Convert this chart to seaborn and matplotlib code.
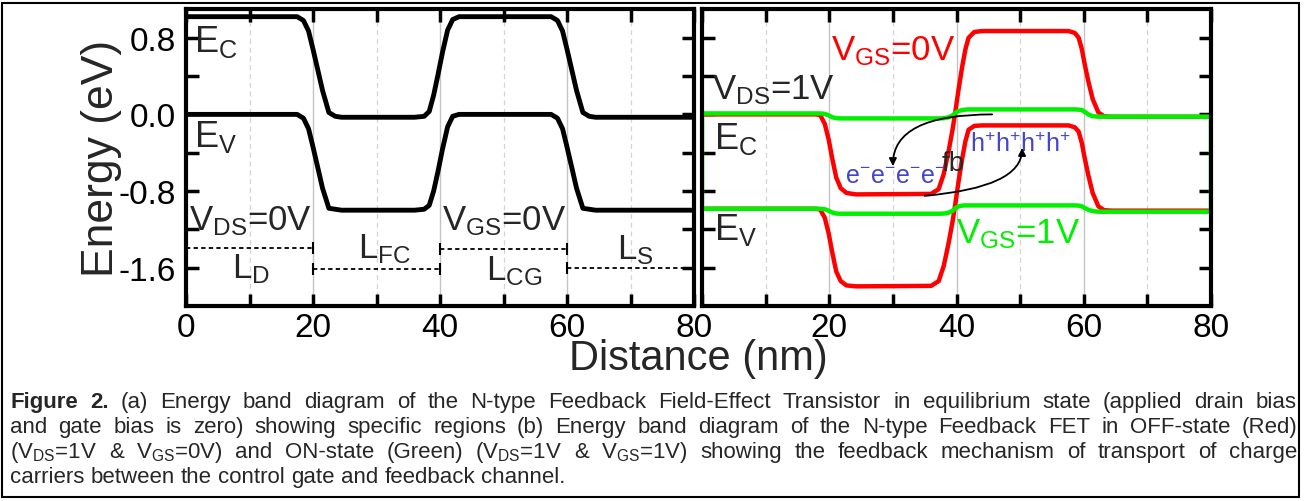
import matplotlib
matplotlib.use("Agg")
import matplotlib.pyplot as plt
import seaborn as sns
from matplotlib.patches import Rectangle
from matplotlib.transforms import IdentityTransform

# ---- (a) equilibrium band diagram (V_DS = V_GS = 0) ----
dist_a = [0, 16.5, 17.5, 18.5, 19.3, 20, 20.7, 21.5, 22.5, 23.5, 24.5,
          36, 37.5, 38.3, 39, 39.7, 40.4, 41.2, 42, 43,
          56.5, 57.5, 58.5, 59.3, 60, 60.7, 61.5, 62.5, 63.5, 64.5, 80]
ec_a = [1.02, 1.02, 1.02, 0.98, 0.87, 0.68, 0.48, 0.25, 0.02, -0.02, -0.03,
        -0.03, -0.02, 0.03, 0.20, 0.42, 0.65, 0.88, 0.99, 1.02,
        1.02, 1.02, 0.98, 0.87, 0.68, 0.48, 0.25, 0.02, -0.02, -0.03, -0.03]
ev_a = [0.0, 0.0, 0.0, -0.04, -0.15, -0.34, -0.54, -0.77, -0.98, -0.99, -1.0,
        -1.0, -0.99, -0.95, -0.80, -0.59, -0.36, -0.13, -0.02, 0.0,
        0.0, 0.0, -0.04, -0.15, -0.34, -0.54, -0.77, -0.98, -0.99, -1.0, -1.0]

# regions (drain, feedback channel, control gate, source)
region_names = ["D", "FC", "CG", "S"]
region_start = [0, 20, 40, 60]
region_end = [20, 40, 60, 80]
region_level = [-1.39, -1.61, -1.41, -1.60]

# ---- (b) biased band diagram, OFF (red) and ON (green) ----
dist_b = [0, 18, 18.6, 19.3, 19.9, 20.5, 21.1, 21.8, 22.7, 24.2,
          36, 37.2, 38.0, 38.8, 39.4, 39.8, 40.3, 40.9, 41.4, 41.9, 42.8, 44,
          57.6, 58.6, 59.2, 59.7, 60.1, 60.7, 61.4, 62.3, 63.2, 64.5, 80]
ec_off = [0.0, 0.0, -0.01, -0.10, -0.26, -0.47, -0.66, -0.77, -0.82, -0.835,
          -0.83, -0.78, -0.62, -0.37, -0.15, 0.02, 0.25, 0.50, 0.68, 0.80, 0.86, 0.87,
          0.87, 0.85, 0.80, 0.68, 0.54, 0.35, 0.16, 0.02, -0.02, -0.025, -0.025]
ev_off = [-0.985, -0.985, -0.995, -1.08, -1.24, -1.45, -1.64, -1.74, -1.785, -1.795,
          -1.79, -1.74, -1.58, -1.33, -1.11, -0.94, -0.71, -0.46, -0.28, -0.16, -0.12, -0.115,
          -0.115, -0.135, -0.18, -0.30, -0.44, -0.63, -0.82, -0.96, -1.0, -1.005, -1.005]
ec_on = [0.01, 0.01, 0.01, 0.005, -0.01, -0.03, -0.04, -0.042, -0.042, -0.042,
         -0.042, -0.042, -0.04, -0.03, -0.01, 0.015, 0.035, 0.045, 0.05, 0.052, 0.052, 0.052,
         0.052, 0.052, 0.05, 0.045, 0.03, 0.0, -0.018, -0.024, -0.024, -0.024, -0.024]
ev_on = [-0.985, -0.985, -0.985, -0.99, -1.005, -1.025, -1.035, -1.037, -1.037, -1.037,
         -1.037, -1.037, -1.035, -1.025, -1.005, -0.98, -0.96, -0.952, -0.95, -0.95, -0.95, -0.95,
         -0.95, -0.95, -0.952, -0.96, -0.975, -0.995, -1.01, -1.016, -1.016, -1.016, -1.016]

x_major = [0, 20, 40, 60, 80]
x_minor = [10, 30, 50, 70]
y_major = [-1.6, -0.8, 0.0, 0.8]
y_minor = [-1.2, -0.4, 0.4]

caption = [
    "Figure 2. (a) Energy band diagram of the N-type Feedback Field-Effect Transistor in equilibrium state (applied drain bias",
    "and gate bias is zero) showing specific regions (b) Energy band diagram of the N-type Feedback FET in OFF-state (Red)",
    r"(V$_{\mathrm{DS}}$=1V & V$_{\mathrm{GS}}$=0V) and ON-state (Green) (V$_{\mathrm{DS}}$=1V & V$_{\mathrm{GS}}$=1V) showing the feedback mechanism of transport of charge",
    "carriers between the control gate and feedback channel.",
]

sns.set_theme(style="ticks")
plt.rcParams["font.family"] = ["Liberation Sans", "DejaVu Sans"]
plt.rcParams["mathtext.fontset"] = "custom"
plt.rcParams["mathtext.rm"] = "Liberation Sans"
plt.rcParams["mathtext.it"] = "Liberation Sans:italic"
plt.rcParams["mathtext.bf"] = "Liberation Sans:bold"
plt.rcParams["axes.unicode_minus"] = False

RED = "#ff0000"
GREEN = "#00f000"
BLUE = "#4444cc"

W, H = 1307, 502
fig = plt.figure(figsize=(W / 100, H / 100), dpi=100)
ax_a = fig.add_axes([186 / W, 1 - 307 / H, 508 / W, 297 / H])
ax_b = fig.add_axes([702 / W, 1 - 307 / H, 509 / W, 297 / H])

for ax in (ax_a, ax_b):
    ax.set_xlim(0, 80)
    ax.set_ylim(-2.0, 1.1)
    ax.set_xticks(x_major)
    ax.set_xticks(x_minor, minor=True)
    ax.set_yticks(y_major)
    ax.set_yticks(y_minor, minor=True)
    ax.tick_params(which="both", direction="in", top=True, right=True,
                   length=9, width=2.5, labelsize=24, pad=4, colors="black")
    ax.set_axisbelow(True)
    ax.grid(axis="x", which="major", color="#c4c4c4", lw=1.0, ls="-")
    ax.grid(axis="x", which="minor", color="#d4d4d4", lw=0.9, ls=(0, (4, 3)))
    ax.grid(axis="y", visible=False)
    for sp in ax.spines.values():
        sp.set_linewidth(3)
        sp.set_color("black")
    ax.set_xlabel("")
    ax.set_ylabel("")

ax_a.tick_params(axis="y", pad=7)
ax_a.set_yticklabels(["-1.6", "-0.8", "0.0", "0.8"])
ax_b.set_yticklabels([])
ax_b.set_xticklabels(["", "20", "40", "60", "80"])

# ---- panel (a) ----
sns.lineplot(x=dist_a, y=ec_a, ax=ax_a, color="black", lw=3.5, sort=False, estimator=None)
sns.lineplot(x=dist_a, y=ev_a, ax=ax_a, color="black", lw=3.5, sort=False, estimator=None)

for name, s, e, lev in zip(region_names, region_start, region_end, region_level):
    ax_a.plot([s, e], [lev, lev], color="black", lw=1.3, ls=(0, (2.4, 1.8)))
    ax_a.plot([s, e], [lev, lev], ls="none", marker="|", ms=8, mew=1.5, color="black")

ax_a.text(7.3, -1.70, r"L$_{\mathrm{D}}$", fontsize=25, va="baseline")
ax_a.text(27.1, -1.49, r"L$_{\mathrm{FC}}$", fontsize=25, va="baseline")
ax_a.text(47.3, -1.72, r"L$_{\mathrm{CG}}$", fontsize=25, va="baseline")
ax_a.text(67.8, -1.50, r"L$_{\mathrm{S}}$", fontsize=25, va="baseline")

ax_a.text(1.3, 0.66, r"E$_{\mathrm{C}}$", fontsize=26, va="baseline")
ax_a.text(1.3, -0.33, r"E$_{\mathrm{V}}$", fontsize=26, va="baseline")
ax_a.text(0.5, -1.20, r"V$_{\mathrm{DS}}$=0V", fontsize=25, va="baseline")
ax_a.text(40.3, -1.20, r"V$_{\mathrm{GS}}$=0V", fontsize=25, va="baseline")

ax_a.set_ylabel("Energy (eV)", fontsize=32)
ax_a.yaxis.set_label_coords(-0.126, 0.5)

# ---- panel (b) ----
sns.lineplot(x=dist_b, y=ec_off, ax=ax_b, color=RED, lw=3.2, sort=False, estimator=None)
sns.lineplot(x=dist_b, y=ev_off, ax=ax_b, color=RED, lw=3.2, sort=False, estimator=None)
# ON-state band edges drawn as one closed outline
loop_x = dist_b + dist_b[::-1] + dist_b[:1]
loop_y = ec_on + ev_on[::-1] + ec_on[:1]
sns.lineplot(x=loop_x, y=loop_y, ax=ax_b, color=GREEN, lw=3.2, sort=False, estimator=None)

ax_b.text(1.6, 0.17, r"V$_{\mathrm{DS}}$=1V", fontsize=25, va="baseline")
ax_b.text(20.2, 0.57, r"V$_{\mathrm{GS}}$=0V", fontsize=25, va="baseline", color=RED)
ax_b.text(40.0, -1.34, r"V$_{\mathrm{GS}}$=1V", fontsize=25, va="baseline", color=GREEN)
ax_b.text(1.9, -0.35, r"E$_{\mathrm{C}}$", fontsize=26, va="baseline")
ax_b.text(1.9, -1.30, r"E$_{\mathrm{V}}$", fontsize=26, va="baseline")
ax_b.text(22.5, -0.715, r"e$^{-}$e$^{-}$e$^{-}$e$^{-}$", fontsize=18, va="baseline", color=BLUE)
ax_b.text(42.1, -0.38, r"h$^{+}$h$^{+}$h$^{+}$h$^{+}$", fontsize=18, va="baseline", color=BLUE)
ax_b.text(37.7, -0.58, "fb", fontsize=20, va="baseline")

ax_b.annotate("", xy=(30.0, -0.54), xytext=(45.6, 0.0),
              arrowprops=dict(arrowstyle="-|>", color="black", lw=1.3, mutation_scale=11,
                              shrinkA=0, shrinkB=0,
                              connectionstyle="angle3,angleA=0,angleB=90"))
ax_b.annotate("", xy=(50.3, -0.35), xytext=(35.0, -0.85),
              arrowprops=dict(arrowstyle="-|>", color="black", lw=1.3, mutation_scale=11,
                              shrinkA=0, shrinkB=0,
                              connectionstyle="angle3,angleA=5,angleB=90"))

fig.text(698 / W, 1 - 370 / H, "Distance (nm)", fontsize=30, ha="center", va="baseline")

# ---- justified caption ----
renderer = fig.canvas.get_renderer()
cap_size = 16
x_left, x_right = 10, 1297
base0, pitch = H - 408, 25
for i, line in enumerate(caption):
    words = line.split(" ")
    items = []
    for j, w in enumerate(words):
        bold = (i == 0 and j < 2)
        items.append(fig.text(0, 0, w, fontsize=cap_size, va="baseline", ha="left",
                              fontweight="bold" if bold else "normal",
                              transform=IdentityTransform()))
    widths = [t.get_window_extent(renderer).width for t in items]
    if i < len(caption) - 1:
        gap = (x_right - x_left - sum(widths)) / (len(items) - 1)
    else:
        gap = 0.28 * cap_size * 100 / 72
    x = x_left
    for t, w in zip(items, widths):
        t.set_position((x, base0 - i * pitch))
        x += w + gap

fig.add_artist(Rectangle((2 / W, 4 / H), 1297 / W, 494 / H, transform=fig.transFigure,
                         fill=False, lw=1.5, ec="black"))

fig.savefig("out.png", dpi=100)
